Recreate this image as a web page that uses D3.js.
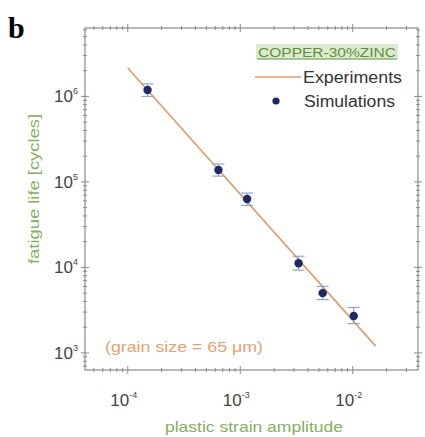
<!DOCTYPE html>
<html>
<head>
<meta charset="utf-8">
<script src="https://cdn.jsdelivr.net/npm/d3@7"></script>
<style>
  body { margin: 0; background: #fff; }
  svg { font-family: "Liberation Sans", Arial, sans-serif; }
</style>
</head>
<body>
<svg id="chart"></svg>
<script>
// simulated points (strain amplitude, cycles) with error ranges
const strain = [1.5e-4, 6.4e-4, 1.15e-3, 3.3e-3, 5.4e-3, 1.02e-2]
const cycles = [1.19e6, 1.38e5, 6.3e4, 1.12e4, 5.0e3, 2.7e3]
const cyclesLow = [1.0e6, 1.17e5, 5.3e4, 9.3e3, 4.2e3, 2.2e3]
const cyclesHigh = [1.4e6, 1.62e5, 7.4e4, 1.35e4, 6.0e3, 3.4e3]
// experimental fit line endpoints
const fitStrain = [1.0e-4, 1.6e-2]
const fitCycles = [2.15e6, 1.2e3]
const xTicks = [1e-4, 1e-3, 1e-2]
const xTickExp = ['-4', '-3', '-2']
const yTicks = [1e3, 1e4, 1e5, 1e6]
const yTickExp = ['3', '4', '5', '6']

const width = 425
const height = 437
const padLeft = 85, padRight = 418, padTop = 28, padBottom = 370

const svg = d3.select('#chart')
              .attr('width', width)
              .attr('height', height)

const xScale = d3.scaleLog()
                 .domain([Math.pow(10, -4.38), Math.pow(10, -1.42)])
                 .range([padLeft, padRight])

const yScale = d3.scaleLog()
                 .domain([Math.pow(10, 2.8), Math.pow(10, 6.8)])
                 .range([padBottom, padTop])

const axisColor = '#8a8a8a'

// minor + major ticks on all four sides
const minorX = []
for (let e = -5; e <= -1; e++) for (let m = 1; m <= 9; m++) {
  const v = m * Math.pow(10, e)
  if (v >= xScale.domain()[0] && v <= xScale.domain()[1]) minorX.push(v)
}
const minorY = []
for (let e = 2; e <= 6; e++) for (let m = 1; m <= 9; m++) {
  const v = m * Math.pow(10, e)
  if (v >= yScale.domain()[0] && v <= yScale.domain()[1]) minorY.push(v)
}
const isMajor = (d, list) => list.some(t => Math.abs(Math.log10(d) - Math.log10(t)) < 1e-6)

const ticks = svg.append('g').attr('stroke', axisColor).attr('stroke-width', 1)
ticks.selectAll('.tb').data(minorX).join('line')
     .attr('x1', d => xScale(d)).attr('x2', d => xScale(d))
     .attr('y1', d => padBottom - (isMajor(d, xTicks) ? 4 : 2)).attr('y2', d => padBottom + (isMajor(d, xTicks) ? 4 : 2))
ticks.selectAll('.tt').data(minorX).join('line')
     .attr('x1', d => xScale(d)).attr('x2', d => xScale(d))
     .attr('y1', d => padTop - (isMajor(d, xTicks) ? 4 : 2)).attr('y2', d => padTop + (isMajor(d, xTicks) ? 4 : 2))
ticks.selectAll('.tl').data(minorY).join('line')
     .attr('y1', d => yScale(d)).attr('y2', d => yScale(d))
     .attr('x1', d => padLeft - (isMajor(d, yTicks) ? 4 : 2)).attr('x2', d => padLeft + (isMajor(d, yTicks) ? 4 : 2))
ticks.selectAll('.tr').data(minorY).join('line')
     .attr('y1', d => yScale(d)).attr('y2', d => yScale(d))
     .attr('x1', d => padRight - (isMajor(d, yTicks) ? 4 : 2)).attr('x2', d => padRight + (isMajor(d, yTicks) ? 4 : 2))

svg.append('rect')
   .attr('x', padLeft).attr('y', padTop)
   .attr('width', padRight - padLeft).attr('height', padBottom - padTop)
   .attr('fill', 'none').attr('stroke', axisColor).attr('stroke-width', 1.2)

// tick labels
const xLab = svg.append('g').attr('fill', '#444').attr('font-size', 17)
xTicks.forEach((t, i) => {
  const txt = xLab.append('text').attr('x', xScale(t) - 4).attr('y', 406).attr('text-anchor', 'middle')
  txt.append('tspan').text('10')
  txt.append('tspan').attr('font-size', 9).attr('dy', -8).text(xTickExp[i])
})
const yLab = svg.append('g').attr('fill', '#444').attr('font-size', 17)
yTicks.forEach((t, i) => {
  const txt = yLab.append('text').attr('x', 78).attr('y', yScale(t) + 6).attr('text-anchor', 'end')
  txt.append('tspan').text('10')
  txt.append('tspan').attr('font-size', 9).attr('dy', -8).text(yTickExp[i])
})

// experimental fit line
svg.append('line')
   .attr('x1', xScale(fitStrain[0])).attr('y1', yScale(fitCycles[0]))
   .attr('x2', xScale(fitStrain[1])).attr('y2', yScale(fitCycles[1]))
   .attr('stroke', '#e29a68').attr('stroke-width', 1.6)

// error bars
const errColor = '#8ea6d6'
const err = svg.append('g').attr('stroke', errColor).attr('stroke-width', 1.2)
strain.forEach((s, i) => {
  const x = xScale(s)
  err.append('line').attr('x1', x).attr('x2', x).attr('y1', yScale(cyclesLow[i])).attr('y2', yScale(cyclesHigh[i]))
  err.append('line').attr('x1', x - 6).attr('x2', x + 6).attr('y1', yScale(cyclesLow[i])).attr('y2', yScale(cyclesLow[i]))
  err.append('line').attr('x1', x - 6).attr('x2', x + 6).attr('y1', yScale(cyclesHigh[i])).attr('y2', yScale(cyclesHigh[i]))
})

svg.append('g')
   .selectAll('circle')
   .data(strain)
   .join('circle')
   .attr('cx', d => xScale(d))
   .attr('cy', (d, i) => yScale(cycles[i]))
   .attr('r', 4.2)
   .attr('fill', '#1c2a66')

// legend
svg.append('rect').attr('x', 256).attr('y', 44).attr('width', 142).attr('height', 15).attr('fill', '#dcebcf')
svg.append('text').text('COPPER-30%ZINC')
   .attr('x', 258).attr('y', 57).attr('font-size', 12).attr('fill', '#5f8f3e')
   .attr('textLength', 138).attr('lengthAdjust', 'spacingAndGlyphs')
svg.append('line').attr('x1', 257).attr('x2', 397).attr('y1', 59).attr('y2', 59).attr('stroke', '#5f8f3e').attr('stroke-width', 1)

svg.append('line').attr('x1', 255).attr('x2', 301).attr('y1', 77).attr('y2', 77)
   .attr('stroke', '#e29a68').attr('stroke-width', 1.6)
svg.append('text').text('Experiments').attr('x', 303).attr('y', 83).attr('font-size', 16).attr('fill', '#333')
   .attr('textLength', 99).attr('lengthAdjust', 'spacingAndGlyphs')
svg.append('circle').attr('cx', 276).attr('cy', 101).attr('r', 3.6).attr('fill', '#1c2a66')
svg.append('text').text('Simulations').attr('x', 304).attr('y', 107).attr('font-size', 16).attr('fill', '#333')
   .attr('textLength', 91).attr('lengthAdjust', 'spacingAndGlyphs')

svg.append('text').text('(grain size = 65 μm)')
   .attr('x', 105).attr('y', 352).attr('font-size', 15).attr('fill', '#e8a070')
   .attr('textLength', 158).attr('lengthAdjust', 'spacingAndGlyphs')

// axis titles
svg.append('text').text('plastic strain amplitude')
   .attr('x', 254).attr('y', 432).attr('text-anchor', 'middle')
   .attr('font-size', 15).attr('fill', '#86ad62')
   .attr('textLength', 178).attr('lengthAdjust', 'spacingAndGlyphs')
svg.append('text').text('fatigue life  [cycles]')
   .attr('transform', 'translate(39, 189)rotate(-90)')
   .attr('text-anchor', 'middle')
   .attr('font-size', 15).attr('fill', '#86ad62')
   .attr('textLength', 150).attr('lengthAdjust', 'spacingAndGlyphs')

svg.append('text').text('b')
   .attr('x', 8).attr('y', 38)
   .attr('font-family', '"Liberation Serif", "Times New Roman", serif')
   .attr('font-weight', 'bold').attr('font-size', 30).attr('fill', '#000')
</script>
</body>
</html>
